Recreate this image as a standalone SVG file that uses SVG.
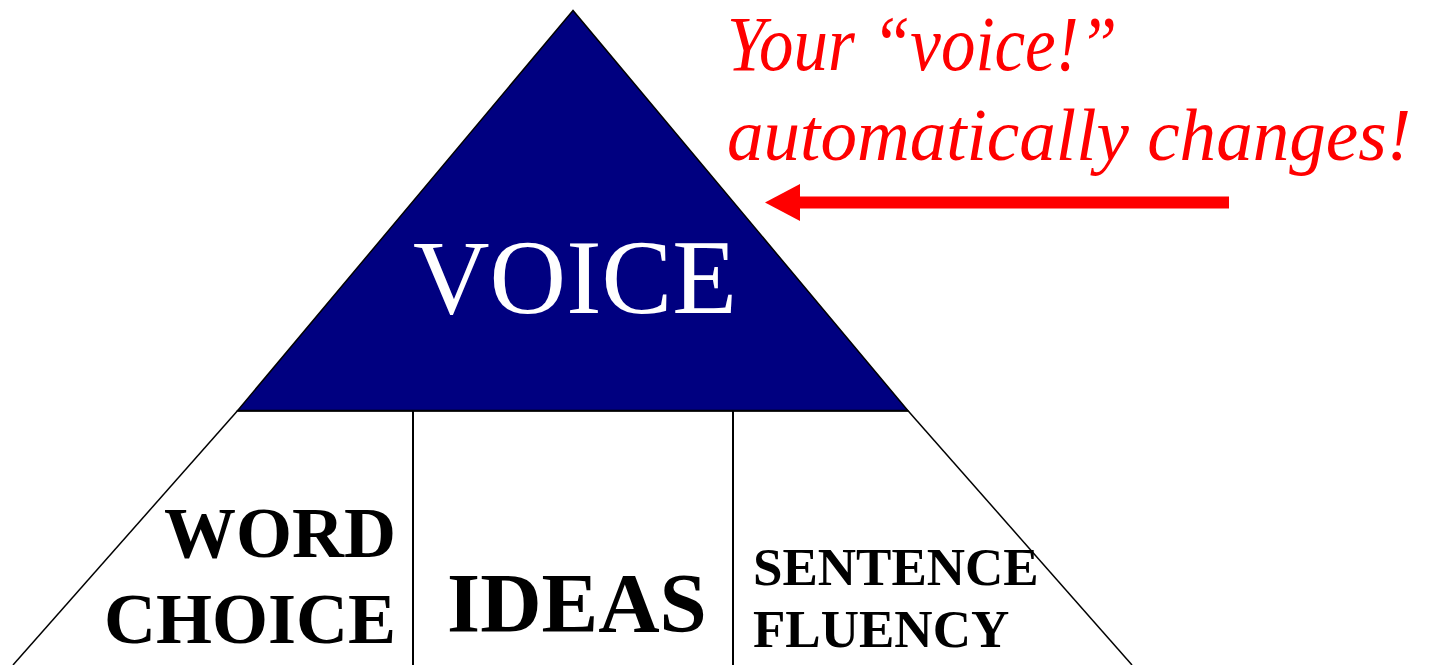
<svg xmlns="http://www.w3.org/2000/svg" width="1431" height="665" viewBox="0 0 1431 665">
<style>
.edge{fill:none;stroke:#000;stroke-width:1.5}
.cell{font-family:"Liberation Serif","Times New Roman",serif;font-weight:bold;fill:#000}
.note{font-family:"Liberation Serif","Times New Roman",serif;font-style:italic;fill:#ff0000}
</style>
<defs>
<marker id="head" markerUnits="userSpaceOnUse" markerWidth="36" markerHeight="37" refX="0" refY="18.5" orient="auto" viewBox="0 0 36 37">
<polygon points="0,0 35,18.5 0,37" fill="#ff0000"/>
</marker>
</defs>
<rect width="1431" height="665" fill="#fff"/>
<g id="voice">
<polygon points="573,10.5 237.5,410.7 908,410.7" fill="#000080" stroke="#000" stroke-width="1.5"/>
<text x="575" y="313" font-family="'Liberation Serif','Times New Roman',serif" font-size="106" fill="#fff" text-anchor="middle">VOICE</text>
</g>
<g id="base">
<polyline class="edge" points="237.5,410.7 13,665"/>
<polyline class="edge" points="908,410.7 1132,665"/>
<line x1="237.5" y1="410.7" x2="908" y2="410.7" stroke="#000" stroke-width="2"/>
</g>
<g id="word-choice">
<line x1="413" y1="410.7" x2="413" y2="665" stroke="#000" stroke-width="2"/>
<text class="cell" x="396" y="557" font-size="72" text-anchor="end">WORD</text>
<text class="cell" x="396" y="643" font-size="72" text-anchor="end">CHOICE</text>
</g>
<g id="ideas">
<text class="cell" x="577" y="632" font-size="85" text-anchor="middle">IDEAS</text>
</g>
<g id="sentence-fluency">
<line x1="733" y1="410.7" x2="733" y2="665" stroke="#000" stroke-width="2"/>
<text class="cell" x="753" y="585" font-size="53">SENTENCE</text>
<text class="cell" x="753" y="647" font-size="53">FLUENCY</text>
</g>
<g id="annotation">
<text class="note" x="727" y="70" font-size="78" textLength="390" lengthAdjust="spacingAndGlyphs">Your “voice!”</text>
<text class="note" x="727" y="160" font-size="74" textLength="684" lengthAdjust="spacingAndGlyphs">automatically changes!</text>
</g>
<g id="connectors">
<line x1="1229" y1="202.5" x2="800" y2="202.5" stroke="#ff0000" stroke-width="12" marker-end="url(#head)"/>
</g>
</svg>
